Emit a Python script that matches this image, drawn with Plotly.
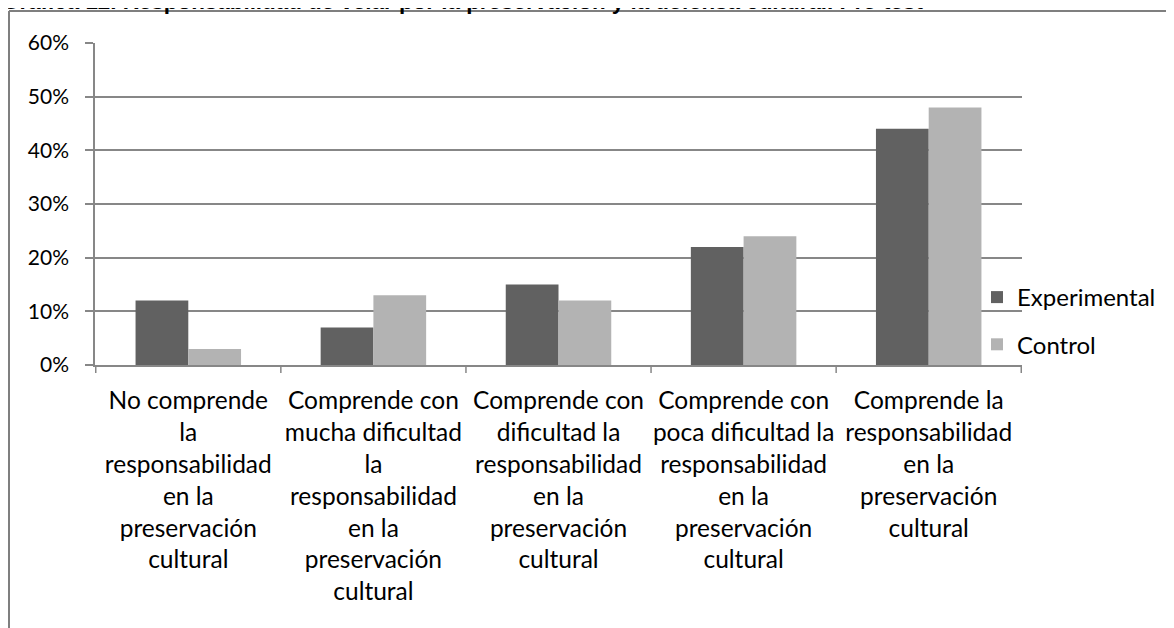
import plotly.graph_objects as go

categories = [
    "No comprende la responsabilidad en la preservación cultural",
    "Comprende con mucha dificultad la responsabilidad en la preservación cultural",
    "Comprende con dificultad la responsabilidad en la preservación cultural",
    "Comprende con poca dificultad la responsabilidad en la preservación cultural",
    "Comprende la responsabilidad en la preservación cultural",
]
tick_labels = [
    "No comprende<br>la<br>responsabilidad<br>en la<br>preservación<br>cultural",
    "Comprende con<br>mucha dificultad<br>la<br>responsabilidad<br>en la<br>preservación<br>cultural",
    "Comprende con<br>dificultad la<br>responsabilidad<br>en la<br>preservación<br>cultural",
    "Comprende con<br>poca dificultad la<br>responsabilidad<br>en la<br>preservación<br>cultural",
    "Comprende la<br>responsabilidad<br>en la<br>preservación<br>cultural",
]
experimental = [0.12, 0.07, 0.15, 0.22, 0.44]
control = [0.03, 0.13, 0.12, 0.24, 0.48]
y_ticks = [0, 0.1, 0.2, 0.3, 0.4, 0.5, 0.6]
y_tick_text = ["0%", "10%", "20%", "30%", "40%", "50%", "60%"]
title_text = "Gráfica 12. Responsabilidad de velar por la preservación y la defensa cultural. Pre-test"

W, H = 1174, 628
L, R, T, B = 87, 160, 35, 271
PW, PH = W - L - R, H - T - B

def px_x(p):
    return (p - L) / PW

def px_y(p):
    return 1 + (T - p) / PH

FONT = "Lato"
FS = 24
GRID = "#878787"
FRAME = "#7f7f7f"

fig = go.Figure()
fig.add_trace(go.Bar(x=categories, y=experimental, name="Experimental",
                     marker=dict(color="#616161", line=dict(width=0)),
                     legendgroup="a"))
fig.add_trace(go.Bar(x=categories, y=control, name="Control",
                     marker=dict(color="#b3b3b3", line=dict(width=0)),
                     legendgroup="b"))

fig.update_layout(
    width=W, height=H,
    margin=dict(l=L, r=R, t=T, b=B, autoexpand=False),
    paper_bgcolor="white", plot_bgcolor="white",
    barmode="group", bargap=0.43, bargroupgap=0,
    font=dict(family=FONT, size=FS, color="#000000"),
    showlegend=True,
    legend=dict(x=px_x(969), y=px_y(267), xanchor="left", yanchor="top",
                font=dict(family=FONT, size=FS, color="#000"),
                tracegroupgap=13, bgcolor="rgba(0,0,0,0)",
                itemwidth=30),
    xaxis=dict(tickmode="array", tickvals=categories, ticktext=tick_labels,
               showline=True, linecolor=GRID, linewidth=1.5,
               ticks="", showgrid=False, tickangle=0, ticklabelstandoff=13,
               tickfont=dict(family=FONT, size=24.5, color="#000")),
    yaxis=dict(range=[0, 0.6], tickmode="array", tickvals=y_ticks, ticktext=y_tick_text,
               showline=True, linecolor=GRID, linewidth=1.5,
               ticks="outside", ticklen=8, tickcolor=GRID, tickwidth=1.5,
               showgrid=True, gridcolor=GRID, gridwidth=1.5, zeroline=False,
               tickfont=dict(family=FONT, size=21, color="#000"), ticklabelstandoff=12),
)

# category separator tick marks below the x axis
shapes = []
for i in range(len(categories) + 1):
    shapes.append(dict(type="line", xref="x", yref="paper",
                       x0=i - 0.5, x1=i - 0.5, y0=0, y1=-8 / PH,
                       line=dict(color=GRID, width=1.5)))
# outer chart frame (top and left edges visible)
shapes.append(dict(type="line", xref="paper", yref="paper", layer="above",
                   x0=px_x(1), x1=px_x(W + 10), y0=px_y(3), y1=px_y(3),
                   line=dict(color=FRAME, width=2)))
shapes.append(dict(type="line", xref="paper", yref="paper", layer="above",
                   x0=px_x(1), x1=px_x(1), y0=px_y(3), y1=px_y(H + 10),
                   line=dict(color=FRAME, width=2)))
fig.update_layout(shapes=shapes)

fig.add_annotation(text="<b>" + title_text + "</b>", xref="paper", yref="paper",
                   x=px_x(-8), y=px_y(8), xanchor="left", yanchor="bottom",
                   showarrow=False,
                   font=dict(family="Liberation Sans", size=22.4, color="#000"))

fig.write_html("out.html")
